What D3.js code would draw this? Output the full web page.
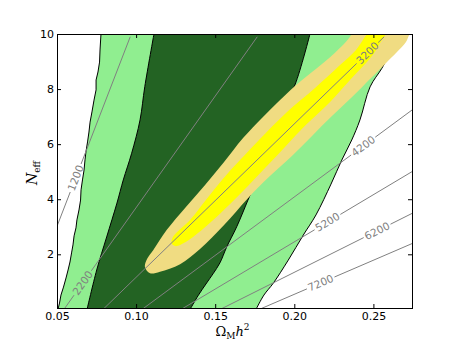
<!DOCTYPE html>
<html>
<head>
<meta charset="utf-8">
<script src="https://cdn.jsdelivr.net/npm/d3@7"></script>
<style>
body { margin: 0; background: #fff; }
text { font-family: "DejaVu Sans", sans-serif; }
</style>
</head>
<body>
<div id="chart"></div>
<script>
// axis ticks
var xTicks = [0.05, 0.10, 0.15, 0.20, 0.25];
var yTicks = [2, 4, 6, 8, 10];

// outer (light green) region edges, [omega_m h^2, N_eff]
var outerLeftEdge = [[0.0778,10],[0.0772,9.42],[0.0769,8.98],[0.0759,8.62],[0.0747,8.33],[0.0747,7.97],
  [0.0734,7.60],[0.0721,7.17],[0.0709,6.80],[0.0702,6.44],[0.0693,6.08],[0.0683,5.72],[0.0677,5.43],
  [0.0671,5.06],[0.0661,4.70],[0.0652,4.34],[0.0649,3.97],[0.0639,3.61],[0.0626,3.25],[0.0620,2.96],
  [0.0608,2.67],[0.0601,2.34],[0.0592,2.05],[0.0582,1.72],[0.0570,1.43],[0.0557,1.14],[0.0541,0.81],
  [0.0525,0.52],[0.0516,0.23],[0.0506,0]];
var outerRightEdge = [[0.1758,0],[0.1808,0.52],[0.1867,0.95],[0.1962,1.79],[0.2057,2.70],[0.2137,3.43],
  [0.2232,4.55],[0.2300,5.42],[0.2363,6.15],[0.2415,6.88],[0.2479,8.08],[0.2553,8.75],[0.2618,9.42],[0.2681,10]];

// inner (dark green) region edges
var innerLeftEdge = [[0.1113,10],[0.1055,8.09],[0.1025,6.88],[0.0972,5.67],[0.0919,4.70],[0.0879,3.86],
  [0.0814,2.63],[0.0751,1.43],[0.0690,0]];
var innerRightEdge = [[0.1341,0],[0.1391,0.49],[0.1446,0.96],[0.1486,1.29],[0.1530,1.69],[0.1573,2.27],
  [0.1636,3.00],[0.1707,3.97],[0.1739,4.41],[0.1815,5.79],[0.1910,7.06],[0.2004,8.15],[0.2099,10]];

// khaki and yellow regions (closed outlines)
var khakiRegion = [[0.1056,1.54],[0.1069,1.83],[0.1109,2.16],[0.1193,2.88],[0.1315,3.72],[0.1436,4.52],
  [0.1556,5.35],[0.1676,6.22],[0.1802,6.99],[0.1910,7.60],[0.2004,8.11],[0.2112,8.62],[0.2226,9.16],
  [0.2331,9.75],[0.2365,10],[0.2428,10.44],[0.2826,10.44],[0.2731,10],[0.2706,9.71],[0.2643,9.31],
  [0.2580,8.95],[0.2485,8.40],[0.2365,7.71],[0.2238,7.02],[0.2112,6.30],[0.1985,5.57],[0.1846,4.84],
  [0.1707,4.04],[0.1556,3.06],[0.1404,2.19],[0.1278,1.64],[0.1151,1.37],[0.1088,1.31]];
var yellowRegion = [[0.1225,2.40],[0.1233,2.63],[0.1341,3.25],[0.1436,3.94],[0.1543,4.70],[0.1657,5.42],
  [0.1777,6.15],[0.1954,7.17],[0.2131,8.04],[0.2289,8.87],[0.2390,9.42],[0.2460,10],[0.2542,10.47],
  [0.2668,10.47],[0.2580,10],[0.2491,9.20],[0.2352,8.33],[0.2226,7.53],[0.2074,6.70],[0.1941,5.90],
  [0.1821,5.17],[0.1707,4.48],[0.1594,3.83],[0.1473,3.17],[0.1360,2.63],[0.1278,2.34],[0.1246,2.30]];

// grey iso-lines: omega at N=0 and at N=9.9, with label position (N along line)
var isoLabels = ["1200", "2200", "3200", "4200", "5200", "6200", "7200"];
var isoOmegaBottom = [0.0297, 0.0544, 0.0791, 0.1038, 0.1285, 0.1532, 0.1779];
var isoOmegaTop = [0.0963, 0.1766, 0.2568, 0.3371, 0.4173, 0.4976, 0.5778];
var isoNRange = [0, 9.9];
var isoLabelN = [4.77, 0.96, 9.31, 5.93, 3.17, 2.85, 0.96];

var margin = {top: 34, right: 46, bottom: 35, left: 57},
    width = 458 - margin.left - margin.right,
    height = 343 - margin.top - margin.bottom;

var svg = d3.select("#chart")
  .append("svg")
    .attr("width", width + margin.left + margin.right)
    .attr("height", height + margin.top + margin.bottom)
  .append("g")
    .attr("transform", "translate(" + margin.left + "," + margin.top + ")");

var x = d3.scaleLinear().domain([0.05, 0.2744]).range([0, width]);
var y = d3.scaleLinear().domain([0.05, 10]).range([height, 0]);

svg.append("clipPath").attr("id", "clip")
  .append("rect").attr("width", width).attr("height", height);

var plot = svg.append("g").attr("clip-path", "url(#clip)");

function path(points, curve) {
  return d3.line().x(function(d) { return x(d[0]); }).y(function(d) { return y(d[1]); })
    .curve(curve || d3.curveLinear)(points);
}
function band(left, leftCurve, right, rightCurve) {
  return path(left, leftCurve) + path(right, rightCurve).replace(/^M/, "L") + "Z";
}

var smooth = d3.curveCatmullRom.alpha(0.5);

plot.append("path").attr("d", band(outerLeftEdge, d3.curveLinear, outerRightEdge, smooth))
  .style("fill", "#90ee90");
plot.append("path").attr("d", band(innerLeftEdge, smooth, innerRightEdge, smooth))
  .style("fill", "#236323");

[[outerLeftEdge, d3.curveLinear], [outerRightEdge, smooth], [innerLeftEdge, smooth], [innerRightEdge, smooth]]
  .forEach(function(e) {
    plot.append("path").attr("d", path(e[0], e[1]))
      .style("fill", "none").style("stroke", "#000").style("stroke-width", 1);
  });

plot.append("path").attr("d", path(khakiRegion, d3.curveCatmullRomClosed.alpha(0.5)))
  .style("fill", "#f0dc82");
plot.append("path").attr("d", path(yellowRegion, d3.curveCatmullRomClosed.alpha(0.5)))
  .style("fill", "#ffff00");

// iso-lines with inline labels
isoLabels.forEach(function(lab, i) {
  var x0 = x(isoOmegaBottom[i]), y0 = y(isoNRange[0]),
      x1 = x(isoOmegaTop[i]), y1 = y(isoNRange[1]);
  var len = Math.hypot(x1 - x0, y1 - y0), ux = (x1 - x0) / len, uy = (y1 - y0) / len;
  var t = (isoLabelN[i] - isoNRange[0]) / (isoNRange[1] - isoNRange[0]);
  var cx = x0 + t * (x1 - x0), cy = y0 + t * (y1 - y0);
  var gap = 15;
  plot.append("line")
    .attr("x1", x0).attr("y1", y0).attr("x2", cx - gap * ux).attr("y2", cy - gap * uy)
    .style("stroke", "#808080").style("stroke-width", 1);
  plot.append("line")
    .attr("x1", cx + gap * ux).attr("y1", cy + gap * uy).attr("x2", x1).attr("y2", y1)
    .style("stroke", "#808080").style("stroke-width", 1);
  var ang = Math.atan2(uy, ux) * 180 / Math.PI;
  plot.append("text")
    .attr("transform", "translate(" + cx + "," + cy + ") rotate(" + ang + ")")
    .attr("text-anchor", "middle")
    .attr("dy", "0.35em")
    .style("font-size", "10.5px")
    .style("fill", "#808080")
    .text(lab);
});

// axes, ticks inward on all four sides
function styleAxis(g) {
  g.select(".domain").remove();
  g.selectAll("text").style("font-size", "11px").style("font-family", "DejaVu Sans, sans-serif");
}
svg.append("g").attr("transform", "translate(0," + height + ")")
  .call(d3.axisBottom(x).tickValues(xTicks).tickFormat(d3.format(".2f")).tickSize(-4).tickPadding(4))
  .call(styleAxis);
svg.append("g")
  .call(d3.axisTop(x).tickValues(xTicks).tickFormat("").tickSize(-4))
  .call(styleAxis);
svg.append("g")
  .call(d3.axisLeft(y).tickValues(yTicks).tickFormat(d3.format("d")).tickSize(-4).tickPadding(3))
  .call(styleAxis);
svg.append("g").attr("transform", "translate(" + width + ",0)")
  .call(d3.axisRight(y).tickValues(yTicks).tickFormat("").tickSize(-4))
  .call(styleAxis);

svg.append("rect")
  .attr("x", 0.5).attr("y", 0.5).attr("width", width).attr("height", height)
  .style("fill", "none").style("stroke", "#000").style("stroke-width", 1);

// axis titles
var xl = svg.append("text")
  .attr("x", width / 2 - 2).attr("y", height + 27.5)
  .attr("text-anchor", "middle")
  .style("font-family", "DejaVu Serif, serif").style("font-size", "13px");
xl.append("tspan").text("\u03a9");
xl.append("tspan").attr("dy", 3).style("font-size", "9px").text("M");
xl.append("tspan").attr("dy", -3).style("font-style", "italic").text("h");
xl.append("tspan").attr("dy", -6).style("font-size", "9px").text("2");

var yl = svg.append("text")
  .attr("transform", "translate(-20," + (height / 2 + 2) + ") rotate(-90)")
  .attr("text-anchor", "middle")
  .style("font-family", "DejaVu Serif, serif").style("font-size", "14px");
yl.append("tspan").style("font-style", "italic").text("N");
yl.append("tspan").attr("dy", 3).style("font-size", "9px").text("eff");
</script>
</body>
</html>
